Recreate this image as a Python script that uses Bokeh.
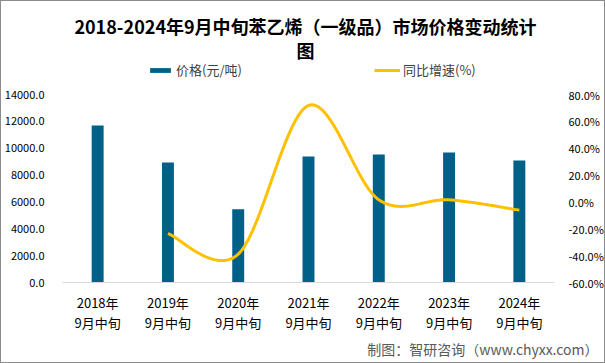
import numpy as np
from bokeh.plotting import figure
from bokeh.models import (Range1d, LinearAxis, FixedTicker, PrintfTickFormatter,
                          NumeralTickFormatter, Label, Legend, LegendItem, ColumnDataSource, Title)
from bokeh.embed import file_html
from bokeh.resources import INLINE

# ---- data ----
years = ["2018年", "2019年", "2020年", "2021年", "2022年", "2023年", "2024年"]
period = "9月中旬"
prices = [11690, 8935, 5460, 9380, 9530, 9680, 9085]
growth = [None, -23.6, -38.9, 71.8, 1.6, 1.6, -6.1]
left_ticks = [0, 2000, 4000, 6000, 8000, 10000, 12000, 14000]
right_ticks = [-60, -40, -20, 0, 20, 40, 60, 80]
title_lines = ["2018-2024年9月中旬苯乙烯（一级品）市场价格变动统计", "图"]
legend_bar = "价格(元/吨)"
legend_line = "同比增速(%)"
footer = "制图：智研咨询（www.chyxx.com）"

BAR = "#006088"
LINE = "#FFC000"
FONT = "Noto Sans CJK SC"

# ---- layout (pixels) ----
W, H = 605, 363
FL, FR, FB = 60, 555, 281       # frame left / right / bottom (frame extends to canvas top)
AX_TOP = 93                      # pixel where axis maxima sit
frame_h = FB
scale = frame_h / (FB - AX_TOP)
l_top = left_ticks[0] + (left_ticks[-1] - left_ticks[0]) * scale
r_top = right_ticks[0] + (right_ticks[-1] - right_ticks[0]) * scale

p = figure(width=W, height=H, output_backend="svg", toolbar_location=None,
           x_range=Range1d(-0.5, 6.5), y_range=Range1d(left_ticks[0], l_top),
           min_border_left=FL, min_border_right=W - FR, min_border_top=0,
           min_border_bottom=H - FB, x_axis_location=None, y_axis_location=None)
p.outline_line_color = None
p.grid.visible = False
p.background_fill_color = "white"
p.border_fill_color = "white"
p.extra_y_ranges = {"pct": Range1d(right_ticks[0], r_top)}

# bars
xs = list(range(len(years)))
src = ColumnDataSource(dict(x=xs, price=prices))
bars = p.vbar(x="x", top="price", width=0.17, source=src, fill_color=BAR, line_color=None)

# smoothed growth line (Excel-style bezier smoothing through the data points)
pts = [(i, g) for i, g in enumerate(growth) if g is not None]
px = np.array([a for a, _ in pts], float)
py = np.array([b for _, b in pts], float)
sx, sy = [], []
n = len(px)
for i in range(n - 1):
    p0 = np.array([px[i], py[i]])
    p3 = np.array([px[i + 1], py[i + 1]])
    pm = np.array([px[i - 1], py[i - 1]]) if i > 0 else p0
    pn = np.array([px[i + 2], py[i + 2]]) if i + 2 < n else p3
    c1 = p0 + (p3 - pm) / 6.0
    c2 = p3 - (pn - p0) / 6.0
    t = np.linspace(0, 1, 40)[:, None]
    b = ((1 - t) ** 3) * p0 + 3 * ((1 - t) ** 2) * t * c1 + 3 * (1 - t) * t ** 2 * c2 + t ** 3 * p3
    sx.extend(b[:, 0]); sy.extend(b[:, 1])
line = p.line(sx, sy, y_range_name="pct", line_color=LINE, line_width=3)

# axes
xaxis = LinearAxis(ticker=FixedTicker(ticks=xs),
                   major_label_overrides={i: f"{y}\n{period}" for i, y in enumerate(years)})
xaxis.axis_line_color = "#d9d9d9"
xaxis.major_tick_line_color = None
xaxis.minor_tick_line_color = None
xaxis.major_label_text_font = FONT
xaxis.major_label_text_font_size = "13px"
xaxis.major_label_text_color = "#000000"
xaxis.major_label_standoff = 4
xaxis.major_label_text_line_height = 1.1
p.add_layout(xaxis, "below")

lax = LinearAxis(ticker=FixedTicker(ticks=left_ticks), formatter=NumeralTickFormatter(format="0.0"))
rax = LinearAxis(y_range_name="pct", ticker=FixedTicker(ticks=right_ticks),
                 formatter=PrintfTickFormatter(format="%.1f%%"))
for ax in (lax, rax):
    ax.axis_line_color = None
    ax.major_tick_line_color = None
    ax.minor_tick_line_color = None
    ax.major_label_text_font = FONT
    ax.major_label_text_font_size = "11px"
    ax.major_label_text_color = "#000000"
lax.major_label_standoff = 12
rax.major_label_standoff = 8
p.add_layout(lax, "left")
p.add_layout(rax, "right")

# footer (below the axis)
p.add_layout(Title(text=footer, align="right", offset=-44, text_font=FONT,
                   text_font_size="14px", text_font_style="normal",
                   text_color="#595959", standoff=2), "below")

# legends
for item, x0 in ((LegendItem(label=legend_bar, renderers=[bars]), 149),
                 (LegendItem(label=legend_line, renderers=[line]), 376)):
    lg = Legend(items=[item], location=(x0 - FL - 4, FB - 71 - 3 - 4), orientation="horizontal",
                padding=0, margin=0, spacing=0, glyph_width=26, glyph_height=6,
                label_height=6, label_standoff=3, border_line_color=None,
                background_fill_alpha=0, label_text_font=FONT,
                label_text_font_size="13px", label_text_color="#404040")
    p.add_layout(lg, "center")

# title
for i, t in enumerate(title_lines):
    p.add_layout(Label(x=303 - FL, y=FB - 24 - 24 * i, x_units="screen", y_units="screen", text=t,
                       text_font=FONT, text_font_size="18px", text_font_style="bold",
                       text_color="#000000", text_align="center", text_baseline="middle"))

p.styles = {"border": "1px solid #8c8c8c"}

open("out.html", "w").write(file_html(p, INLINE))
